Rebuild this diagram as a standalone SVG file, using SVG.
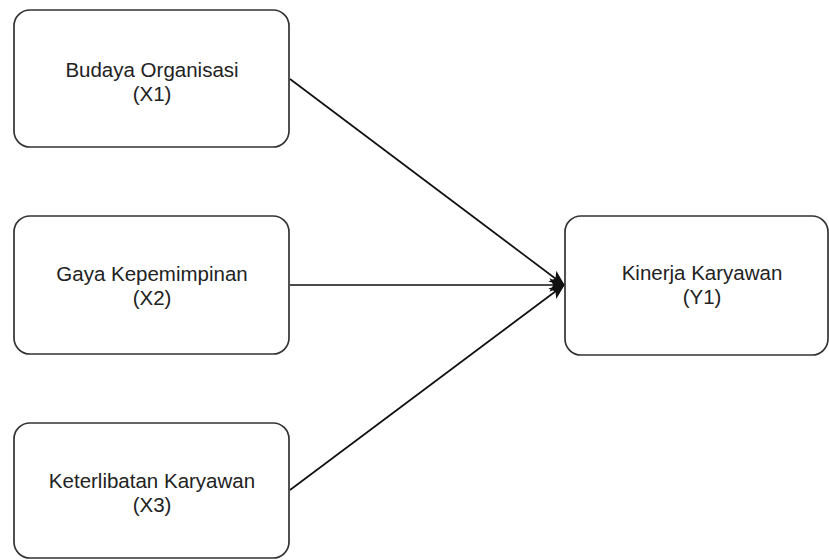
<svg xmlns="http://www.w3.org/2000/svg" width="829" height="560" viewBox="0 0 829 560">
<defs>
<style>
.box{fill:#fff;stroke:#333;stroke-width:1.7}
.t{font-family:"Liberation Sans",Arial,sans-serif;font-size:20.5px;fill:#222;text-anchor:middle}
.e{stroke:#111;stroke-width:1.7;fill:none}
</style>
<marker id="arr" viewBox="0 0 12 12" refX="11" refY="6" markerWidth="16" markerHeight="16" markerUnits="userSpaceOnUse" orient="auto">
<path d="M0,1 L12,6 L0,11 L3,6 Z" fill="#111"/>
</marker>
</defs>
<rect width="829" height="560" fill="#fff"/>
<g id="connectors">
<line class="e" x1="290" y1="79" x2="564" y2="285" marker-end="url(#arr)"/>
<line class="e" x1="290" y1="285" x2="564" y2="285" marker-end="url(#arr)"/>
<line class="e" x1="290" y1="490" x2="564" y2="285" marker-end="url(#arr)"/>
</g>
<g id="x1">
<rect class="box" x="14" y="10" width="275" height="137" rx="16"/>
<text class="t" x="152" y="77">Budaya Organisasi</text>
<text class="t" x="152" y="101">(X1)</text>
</g>
<g id="x2">
<rect class="box" x="14" y="216" width="275" height="138" rx="16"/>
<text class="t" x="152" y="281">Gaya Kepemimpinan</text>
<text class="t" x="152" y="305">(X2)</text>
</g>
<g id="x3">
<rect class="box" x="14" y="423" width="275" height="135" rx="16"/>
<text class="t" x="152" y="488">Keterlibatan Karyawan</text>
<text class="t" x="152" y="512">(X3)</text>
</g>
<g id="y1">
<rect class="box" x="565" y="216" width="263" height="139" rx="16"/>
<text class="t" x="702" y="280">Kinerja Karyawan</text>
<text class="t" x="702" y="304">(Y1)</text>
</g>
</svg>
